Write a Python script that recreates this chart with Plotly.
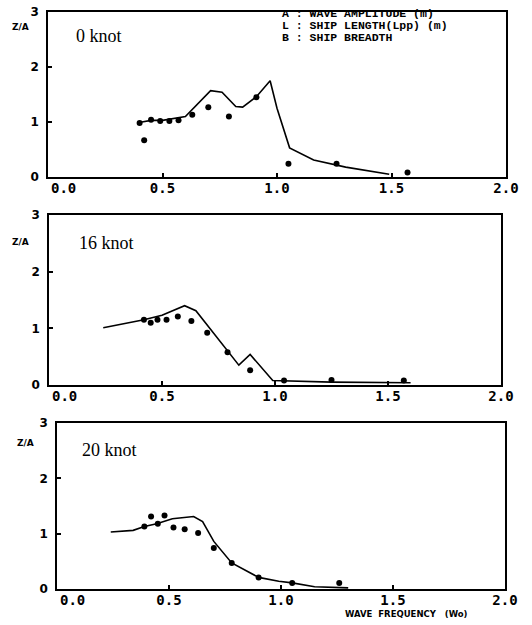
import plotly.graph_objects as go

W, H = 532, 625

# ---------------- data ----------------
f0_meas = [0.40, 0.42, 0.45, 0.49, 0.53, 0.57, 0.63, 0.70, 0.79, 0.91, 1.05, 1.26, 1.57]
z0_meas = [0.98, 0.67, 1.04, 1.02, 1.02, 1.03, 1.13, 1.27, 1.10, 1.45, 0.24, 0.24, 0.08]
f0_calc = [0.41, 0.45, 0.50, 0.55, 0.60, 0.71, 0.76, 0.82, 0.85, 0.91, 0.97, 1.00, 1.055, 1.16, 1.30, 1.49]
z0_calc = [1.00, 1.03, 1.03, 1.06, 1.10, 1.57, 1.54, 1.28, 1.27, 1.46, 1.75, 1.25, 0.53, 0.31, 0.18, 0.05]

f16_meas = [0.42, 0.45, 0.48, 0.52, 0.57, 0.63, 0.70, 0.79, 0.89, 1.04, 1.25, 1.57]
z16_meas = [1.15, 1.10, 1.15, 1.15, 1.21, 1.13, 0.92, 0.58, 0.26, 0.08, 0.09, 0.08]
f16_calc = [0.24, 0.42, 0.50, 0.60, 0.65, 0.84, 0.89, 0.99, 1.25, 1.60]
z16_calc = [1.01, 1.15, 1.23, 1.40, 1.31, 0.35, 0.54, 0.08, 0.05, 0.04]

f20_meas = [0.39, 0.42, 0.45, 0.48, 0.52, 0.57, 0.63, 0.70, 0.78, 0.90, 1.05, 1.26]
z20_meas = [1.13, 1.31, 1.18, 1.33, 1.11, 1.08, 1.01, 0.74, 0.47, 0.21, 0.11, 0.11]
f20_calc = [0.24, 0.34, 0.39, 0.445, 0.515, 0.59, 0.61, 0.65, 0.70, 0.78, 0.90, 0.99, 1.05, 1.15, 1.30]
z20_calc = [1.03, 1.06, 1.13, 1.18, 1.27, 1.31, 1.31, 1.22, 0.86, 0.47, 0.21, 0.14, 0.11, 0.04, 0.02]

x_ticks = [0.0, 0.5, 1.0, 1.5, 2.0]
x_ticktext = ["0.0", "0.5", "1.0", "1.5", "2.0"]
y_ticks = [0, 1, 2, 3]
y_ticktext = ["0", "1", "2", "3"]
speed_labels = ["0 knot", "16 knot", "20 knot"]
legend_lines = ["A : WAVE AMPLITUDE (m)", "L : SHIP LENGTH(Lpp) (m)", "B : SHIP BREADTH"]
x_title = "WAVE  FREQUENCY   (Wo)"
y_title = "Z/A"

panels = [
    (f0_meas, z0_meas, f0_calc, z0_calc),
    (f16_meas, z16_meas, f16_calc, z16_calc),
    (f20_meas, z20_meas, f20_calc, z20_calc),
]

# pixel geometry of each panel box: (left, right, top, bottom)
boxes = [(48, 506, 12, 177), (49, 501, 215, 385), (57, 505, 423, 589)]

tick_font = dict(family="DejaVu Sans Mono", size=14, color="black", weight="bold")

fig = go.Figure()
layout = dict(width=W, height=H, margin=dict(l=0, r=0, t=0, b=0, autoexpand=False),
              paper_bgcolor="white", plot_bgcolor="white", showlegend=False)
annotations = []

for i, ((fm, zm, fc, zc), (l, r, t, b)) in enumerate(zip(panels, boxes)):
    n = "" if i == 0 else str(i + 1)
    xa, ya = "x" + n, "y" + n
    fig.add_trace(go.Scatter(x=fc, y=zc, mode="lines", xaxis=xa, yaxis=ya,
                             line=dict(color="black", width=1.6), cliponaxis=False))
    fig.add_trace(go.Scatter(x=fm, y=zm, mode="markers", xaxis=xa, yaxis=ya,
                             marker=dict(color="black", size=6, symbol="circle"), cliponaxis=False))
    axcommon = dict(showline=True, linecolor="black", linewidth=1.6, mirror=True,
                    showgrid=False, zeroline=False, ticks="inside", ticklen=4,
                    tickcolor="black", tickwidth=1.5, automargin=False)
    # first x label ("0.0") is drawn shifted right of its tick, as in the original
    shown_text = [""] + x_ticktext[1:]
    layout["xaxis" + n] = dict(domain=[l / W, r / W], range=[0, 2], anchor=ya,
                               tickvals=x_ticks, ticktext=shown_text, ticklabelstandoff=-3,
                               tickfont=tick_font, **axcommon)
    layout["yaxis" + n] = dict(domain=[1 - b / H, 1 - t / H], range=[0, 3], anchor=xa,
                               tickvals=y_ticks, ticktext=y_ticktext, ticklabelstandoff=5,
                               tickfont=dict(family="DejaVu Sans", size=12, color="black", weight="bold"),
                               **axcommon)
    annotations.append(dict(x=(l + 15) / W, y=1 - (b + 11) / H, xref="paper", yref="paper",
                            text=x_ticktext[0], showarrow=False, xanchor="center", yanchor="middle",
                            borderpad=0, font=tick_font))
    # speed label
    label_pos = [(74, 36), (77, 243), (80, 450)][i]
    annotations.append(dict(x=label_pos[0] / W, y=1 - label_pos[1] / H, xref="paper", yref="paper",
                            text=speed_labels[i], showarrow=False, xanchor="left", yanchor="middle",
                            font=dict(family="Liberation Serif", size=18, color="black")))
    # z/A label
    za_pos = [(20, 27), (20, 242), (25, 443)][i]
    annotations.append(dict(x=za_pos[0] / W, y=1 - za_pos[1] / H, xref="paper", yref="paper",
                            text=y_title, showarrow=False, xanchor="center", yanchor="middle",
                            font=dict(family="DejaVu Sans", size=9, color="black", weight="bold")))

for k, line in enumerate(legend_lines):
    annotations.append(dict(x=281 / W, y=1 - (14 + 12 * k) / H, xref="paper", yref="paper",
                            text=line.replace(" ", "\u00a0"), showarrow=False, xanchor="left", yanchor="middle",
                            borderpad=0,
                            font=dict(family="Liberation Mono", size=11.5, color="black", weight="bold")))

annotations.append(dict(x=406 / W, y=1 - 614 / H, xref="paper", yref="paper",
                        text=x_title.replace(" ", "\u00a0"), showarrow=False, xanchor="center", yanchor="middle",
                        borderpad=0,
                        font=dict(family="DejaVu Sans", size=8.5, color="black", weight="bold")))

layout["annotations"] = annotations
fig.update_layout(**layout)
fig.write_html("out.html")
